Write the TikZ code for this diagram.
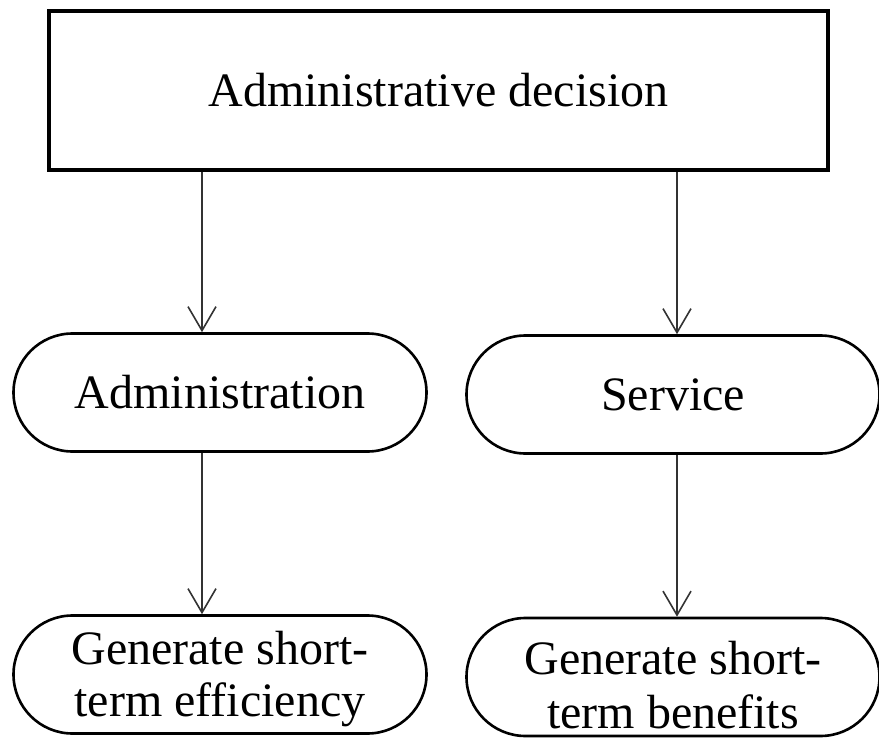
\documentclass[tikz,border=0pt]{standalone}
\usepackage{fontspec}
\setmainfont{Liberation Serif}
\usepackage{tikz}
\usetikzlibrary{arrows.meta,positioning,calc}

\begin{document}
\begin{tikzpicture}[
    x=0.5pt, y=-0.5pt,
    every node/.style={font=\fontsize{24}{26}\selectfont},
    topbox/.style={rectangle, draw=black, line width=2pt,
                   minimum width=389.5pt, minimum height=79.5pt},
    pill/.style={rectangle, rounded corners=29.5pt, draw=black, line width=1.3pt,
                 minimum width=206.5pt, minimum height=59pt, align=center},
    arrow/.style={-{Straight Barb[length=12pt, width=14pt]}, line width=0.8pt, black!80},
  ]
    \useasboundingbox (0,0) rectangle (879,738);

    \node[topbox] (dec) at (438.5,90.5) {Administrative decision};

    \node[pill] (adm)  at (220,392.5) {Administration};
    \node[pill] (serv) at (673,394.5) {Service};

    % struts push the two-line texts a little lower, as in the original
    \node[pill] (eff) at (220,674.5) {\rule{0pt}{21pt}Generate short-\\term efficiency};
    \node[pill, font=\fontsize{24}{27}\selectfont] (ben) at (673,677)
        {\rule{0pt}{25pt}Generate short-\\term benefits};

    % arrow columns
    \coordinate (lcol) at (202,0);
    \coordinate (rcol) at (677,0);

    \draw[arrow] (dec.south -| lcol)  -- (adm.north -| lcol);
    \draw[arrow] (dec.south -| rcol)  -- (serv.north -| rcol);
    \draw[arrow] (adm.south -| lcol)  -- (eff.north -| lcol);
    \draw[arrow] (serv.south -| rcol) -- (ben.north -| rcol);
  \end{tikzpicture}
\end{document}
